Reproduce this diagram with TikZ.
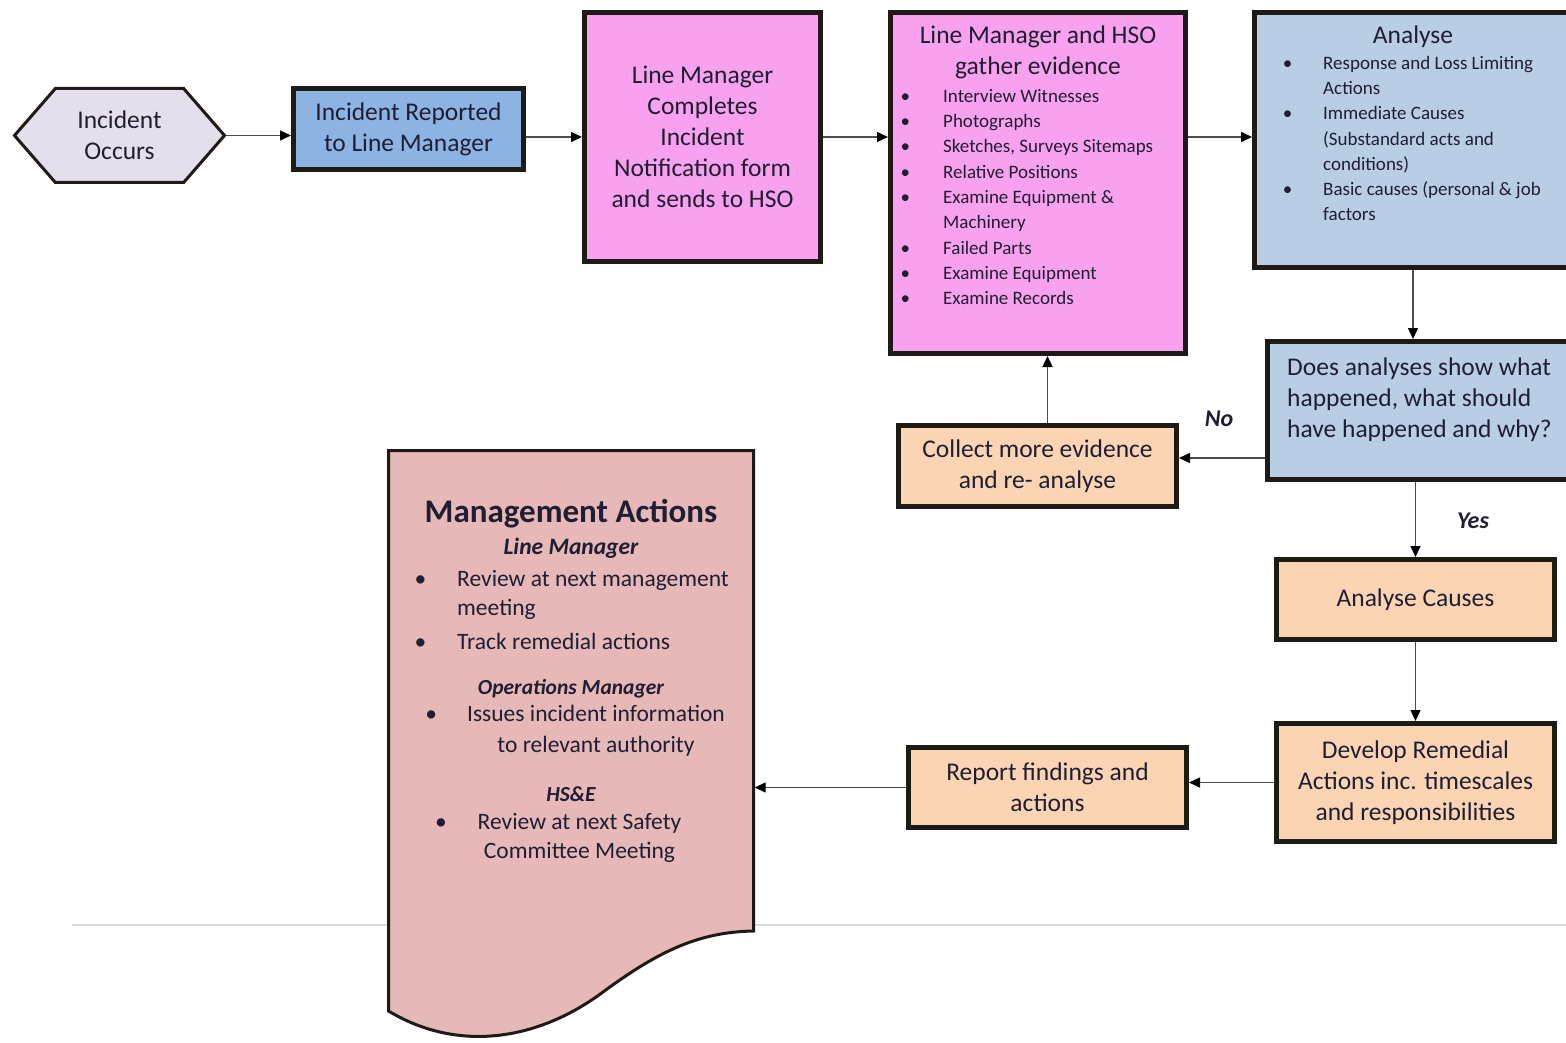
\documentclass[tikz,border=0pt]{standalone}
\usepackage{fontspec}
\setmainfont{Carlito}
\usepackage{xcolor}
\usepackage{tikz}
\usetikzlibrary{shapes.symbols, arrows.meta, calc}
\definecolor{hexfill}{HTML}{E5DFEC}
\definecolor{repblue}{HTML}{8DB3E2}
\definecolor{lmpink}{HTML}{F8A1EF}
\definecolor{anblue}{HTML}{B9CDE5}
\definecolor{peach}{HTML}{FBD4B4}
\definecolor{docpink}{HTML}{E6B8B7}
\definecolor{edge}{HTML}{1E1B16}
\definecolor{ink}{HTML}{1F1E33}
\newcommand{\bul}[1][31pt]{\llap{\textbullet\hspace{#1}}}

\begin{document}
\begin{tikzpicture}[
    x=1pt, y=-1pt,
    hexa/.style={signal, signal to=west and east, signal pointer angle=98, draw=edge, line width=3pt, fill=hexfill, text=ink, inner sep=0pt, minimum width=210pt, minimum height=94pt, align=center, font=\fontsize{25.5}{31}\selectfont},
    box/.style={rectangle, draw=edge, line width=5pt, text=ink, align=center, font=\fontsize{25.5}{31}\selectfont},
    lbl/.style={text=ink, inner sep=0pt, align=center, font=\fontsize{25.5}{31}\selectfont},
    list/.style={text=ink, align=left, inner sep=0pt, anchor=west, font=\fontsize{19}{25.3}\selectfont},
    txt/.style={text=ink, align=center, inner sep=0pt, font=\fontsize{23.5}{29}\selectfont},
    head/.style={text=ink, inner sep=0pt, font=\fontsize{21.5}{25}\selectfont\bfseries\itshape},
    arrow/.style={draw=black!70, line width=1.4pt, -{Triangle[length=11pt, width=10pt, color=black]}}
]
\useasboundingbox (0,0) rectangle (1566,1043);

% Top row
\node[hexa] (occurs) at (119.5,135.5) {Incident\\Occurs};
\node[box, fill=repblue, minimum width=230pt, minimum height=81pt] (reported) at (408.5,129) {Incident Reported\\to Line Manager};
\node[box, fill=lmpink, minimum width=236pt, minimum height=249pt] (completes) at (702.5,137) {Line Manager\\Completes\\Incident\\Notification form\\and sends to HSO};
\node[box, fill=lmpink, minimum width=295pt, minimum height=341pt] (gather) at (1038,183) {};
\node[lbl] (gathertitle) at (1038,52.5) {Line Manager and HSO\\gather evidence};
\node[list] (gatherlist) at (943,197) {\bul[33pt]Interview Witnesses\\ \bul[33pt]Photographs\\ \bul[33pt]Sketches, Surveys Sitemaps\\ \bul[33pt]Relative Positions\\ \bul[33pt]Examine Equipment \&\\Machinery\\ \bul[33pt]Failed Parts\\ \bul[33pt]Examine Equipment\\ \bul[33pt]Examine Records};
\node[box, fill=anblue, minimum width=317pt, minimum height=255pt] (analyse) at (1413,140) {};
\node[lbl] (analysetitle) at (1413,37) {Analyse};
\node[list] (analyselist) at (1323,138.5) {\bul Response and Loss Limiting\\Actions\\ \bul Immediate Causes\\(Substandard acts and\\conditions)\\ \bul Basic causes (personal \& job\\factors};

% Right column
\node[box, fill=anblue, minimum width=305pt, minimum height=138pt] (question) at (1420,410.5) {};
\node[lbl, align=left, anchor=west] (questiontext) at (1287,399.5) {Does analyses show what\\happened, what should\\have happened and why?};
\node[box, fill=peach, minimum width=278pt, minimum height=81pt] (collect) at (1037.5,466) {Collect more evidence\\and re- analyse};
\node[box, fill=peach, minimum width=278pt, minimum height=80pt] (causes) at (1415.5,599.5) {Analyse Causes};
\node[box, fill=peach, minimum width=278pt, minimum height=118pt] (remedial) at (1415.5,782.5) {Develop Remedial\\Actions inc. timescales\\and responsibilities};
\node[box, fill=peach, minimum width=278pt, minimum height=80pt] (report) at (1047.5,787.5) {Report findings and\\actions};
\node[head, font=\fontsize{24}{28}\selectfont\bfseries\itshape] (nolabel) at (1219,419) {No};
\node[head, font=\fontsize{24}{28}\selectfont\bfseries\itshape] (yeslabel) at (1473,521) {Yes};

% Management actions document
\draw[black!15, line width=1.5pt] (72,925) -- (1566,925);
\draw[draw=edge, line width=3pt, fill=docpink] (388.5,450.5) -- (753.5,450.5) -- (753.5,931)
    .. controls (700,932) and (660,950) .. (603,992)
    .. controls (540,1039) and (460,1054) .. (388.5,1011) -- cycle;
\node[minimum width=367pt, minimum height=483pt, inner sep=0pt] (actions) at (571,690.5) {};
\node[text=ink, inner sep=0pt, font=\fontsize{33}{38}\selectfont\bfseries] (mgmttitle) at (571,514) {Management Actions};
\node[head, font=\fontsize{23.5}{28}\selectfont\bfseries\itshape] (linemgr) at (571,548) {Line Manager};
\node[txt, align=left, anchor=west] (linemgrlist) at (457,609.5) {\bul Review at next management\\meeting\\[5pt]\bul Track remedial actions};
\node[head] (opsmgr) at (571,689) {Operations Manager};
\node[txt] (opsmgrlist) at (596,730.5) {\bul[30pt]Issues incident information\\[2pt]to relevant authority};
\node[head] (hse) at (571,794) {HS\&E};
\node[txt] (hselist) at (579.5,837.5) {\bul Review at next Safety\\Committee Meeting};

% Arrows
\draw[arrow] (occurs.east) -- (occurs.east -| reported.west);
\draw[arrow] (reported.east |- completes.west) -- (completes.west);
\draw[arrow] (completes.east) -- (completes.east -| gather.west);
\draw[arrow] (gather.east |- completes.east) -- (analyse.west |- completes.east);
\draw[arrow] (analyse.south) -- (analyse.south |- question.north);
\draw[arrow] ($(question.west |- collect.east)+(0,-8)$) -- ($(collect.east)+(0,-8)$);
\draw[arrow] ($(collect.north)+(10,0)$) -- ($(collect.north |- gather.south)+(10,0)$);
\draw[arrow] (question.south -| causes.north) -- (causes.north);
\draw[arrow] (causes.south) -- (remedial.north);
\draw[arrow] (remedial.west) -- (remedial.west -| report.east);
\draw[arrow] (report.west) -- (report.west -| actions.east);

\end{tikzpicture}
\end{document}
